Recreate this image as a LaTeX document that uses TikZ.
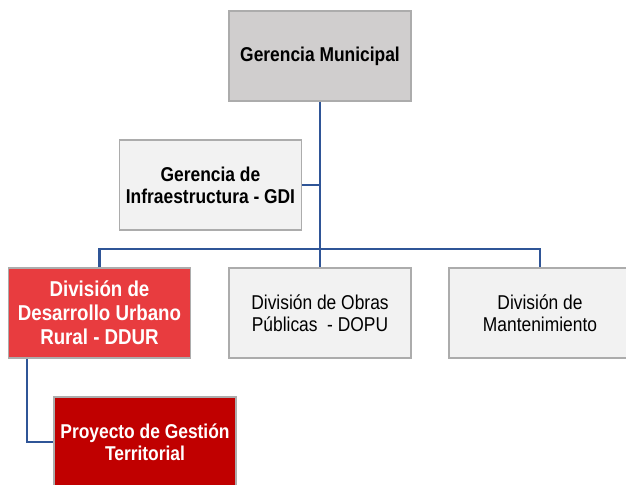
\documentclass[tikz,border=0pt]{standalone}
\usepackage{fontspec}
\setmainfont{Liberation Sans}[FakeStretch=0.87]
\usepackage{xcolor}
\usepackage{tikz}
\usetikzlibrary{positioning,calc}
\definecolor{linkblue}{HTML}{2F5597}
\definecolor{gmgray}{HTML}{D0CECE}
\definecolor{boxgray}{HTML}{F2F2F2}
\definecolor{ddurred}{HTML}{E83C3F}
\definecolor{pgtred}{HTML}{C00000}

\begin{document}
\begin{tikzpicture}[x=1bp, y=-1bp,
		orgbox/.style={draw=gray!65, line width=1.2bp, rectangle, fill=boxgray,
				minimum width=182bp, minimum height=90bp, align=center,
				font=\fontsize{20bp}{22bp}\selectfont},
		headbox/.style={orgbox, fill=gmgray, font=\fontsize{20bp}{22bp}\selectfont\bfseries},
		boldbox/.style={orgbox, font=\fontsize{20bp}{22bp}\selectfont\bfseries},
		redbox/.style={orgbox, fill=ddurred, text=white, font=\fontsize{21.5bp}{24bp}\selectfont\bfseries},
		darkbox/.style={orgbox, fill=pgtred, text=white, font=\fontsize{20bp}{22bp}\selectfont\bfseries},
		link/.style={draw=linkblue, line width=2.6bp},
	]
	\useasboundingbox (0,0) rectangle (626,485);
	\node[headbox] (gm)   at (320, 56)  {Gerencia Municipal};
	\node[boldbox] (gdi)  at (210.5,185) {Gerencia de\\Infraestructura - GDI};
	\coordinate (bus) at (320,249);
	\node[redbox]  (ddur) at (99.5,313) {División de\\Desarrollo Urbano\\Rural - DDUR};
	\node[orgbox]  (dopu) at (320,313) {División de Obras\\Públicas~~- DOPU};
	\node[orgbox]  (mant) at (540,313) {División de\\Mantenimiento};
	\node[darkbox] (pgt)  at (145,442) {Proyecto de Gestión\\Territorial};
	\draw[link] (gm.south) -- (dopu.north);
	\draw[link] (gdi.east) -- (gdi.east -| gm.south);
	\draw[link] (ddur.north) |- (bus) -| (mant.north);
	\draw[link] ([xshift=19bp]ddur.south west) |- (pgt.west);
\end{tikzpicture}
\end{document}
